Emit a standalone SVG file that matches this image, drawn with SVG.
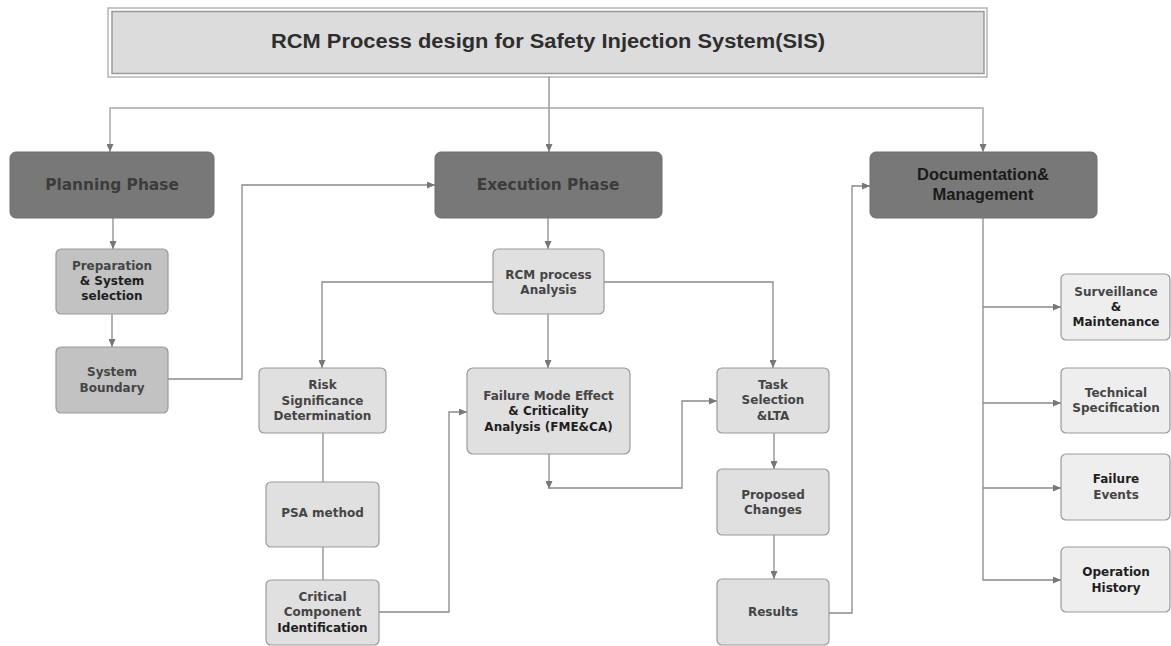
<svg xmlns="http://www.w3.org/2000/svg" width="1171" height="646" viewBox="0 0 1171 646">
<style>
.ln{fill:none;stroke:#8a8a8a;stroke-width:1.3}
.lt{fill:none;stroke:#a8a8a8;stroke-width:1.5}
.ph{fill:#787878;stroke:#6e6e6e;stroke-width:1}
.md{fill:#c2c2c2;stroke:#9a9a9a;stroke-width:1.2}
.lg{fill:#e0e0e0;stroke:#9a9a9a;stroke-width:1.2}
.xl{fill:#eeeeee;stroke:#9a9a9a;stroke-width:1.2}
.t{font-family:"DejaVu Sans",Verdana,sans-serif;font-weight:bold;font-size:12px;fill:#454545;text-anchor:middle}
.dk{fill:#1e1e1e}
.pt{font-family:"DejaVu Sans",Verdana,sans-serif;font-weight:bold;font-size:15.4px;fill:#3c3c3c;text-anchor:middle}
.dt{font-family:"Liberation Sans",Arial,sans-serif;font-weight:bold;font-size:16.5px;fill:#1a1a1a;text-anchor:middle}
</style>
<defs>
<marker id="ah" markerUnits="userSpaceOnUse" markerWidth="8" markerHeight="7" refX="8" refY="3.5" orient="auto">
<path d="M0,0 L8,3.5 L0,7 z" fill="#777"/>
</marker>
</defs>
<rect width="1171" height="646" fill="#ffffff"/>

<g id="title">
<rect x="108" y="8" width="879" height="69" fill="#ffffff" stroke="#b5b5b5" stroke-width="1.5"/>
<rect x="112" y="11.5" width="872" height="62" fill="#dcdcdc" stroke="#9a9a9a" stroke-width="1.5"/>
<text x="548" y="48" font-family="Liberation Sans, Arial, sans-serif" font-weight="bold" font-size="20" fill="#2e2e2e" text-anchor="middle" textLength="554" lengthAdjust="spacingAndGlyphs">RCM Process design for Safety Injection System(SIS)</text>
</g>

<g id="connectors">
<path class="ln" d="M549,77 V152" marker-end="url(#ah)"/>
<path class="lt" d="M549,108 H110 V152" marker-end="url(#ah)"/>
<path class="lt" d="M549,108 H983 V152" marker-end="url(#ah)"/>
<path class="ln" d="M113,218 V249" marker-end="url(#ah)"/>
<path class="ln" d="M112,314 V347" marker-end="url(#ah)"/>
<path class="ln" d="M168,379 H242 V185 H435" marker-end="url(#ah)"/>
<path class="ln" d="M548,218 V249" marker-end="url(#ah)"/>
<path class="ln" d="M493,282 H322 V368" marker-end="url(#ah)"/>
<path class="ln" d="M548,314 V368" marker-end="url(#ah)"/>
<path class="ln" d="M604,282 H773 V368" marker-end="url(#ah)"/>
<path class="ln" d="M323,433 V482"/>
<path class="ln" d="M323,547 V580"/>
<path class="ln" d="M379,612 H449 V412 H467" marker-end="url(#ah)"/>
<path class="ln" d="M549,454 V489" marker-end="url(#ah)"/>
<path class="ln" d="M549,488 H682 V401 H717" marker-end="url(#ah)"/>
<path class="ln" d="M774,433 V469" marker-end="url(#ah)"/>
<path class="ln" d="M774,535 V579" marker-end="url(#ah)"/>
<path class="ln" d="M829,613 H852 V186 H870" marker-end="url(#ah)"/>
<path class="ln" d="M983,218 V580 H1061" marker-end="url(#ah)"/>
<path class="ln" d="M983,307 H1061" marker-end="url(#ah)"/>
<path class="ln" d="M983,403 H1061" marker-end="url(#ah)"/>
<path class="ln" d="M983,488 H1061" marker-end="url(#ah)"/>
</g>

<g id="planning">
<rect class="ph" x="10" y="152" width="204" height="66" rx="6"/>
<text class="pt" x="112" y="189.5">Planning Phase</text>
</g>
<g id="execution">
<rect class="ph" x="435" y="152" width="227" height="66" rx="6"/>
<text class="pt" x="548" y="189.5">Execution Phase</text>
</g>
<g id="documentation">
<rect class="ph" x="870" y="152" width="227" height="66" rx="6"/>
<text class="dt" x="983" y="180">Documentation&amp;</text>
<text class="dt" x="983" y="200">Management</text>
</g>

<g id="preparation">
<rect class="md" x="56" y="249" width="112" height="65" rx="5"/>
<text class="t" x="112" y="270">Preparation</text>
<text class="t dk" x="112" y="285">&amp; System</text>
<text class="t dk" x="112" y="300">selection</text>
</g>
<g id="system-boundary">
<rect class="md" x="56" y="347" width="112" height="66" rx="5"/>
<text class="t" x="112" y="376">System</text>
<text class="t" x="112" y="392">Boundary</text>
</g>

<g id="rcm-analysis">
<rect class="lg" x="493" y="249" width="111" height="65" rx="5"/>
<text class="t" x="548.5" y="279">RCM process</text>
<text class="t" x="548.5" y="294">Analysis</text>
</g>
<g id="risk">
<rect class="lg" x="259" y="368" width="127" height="65" rx="5"/>
<text class="t" x="322.5" y="389">Risk</text>
<text class="t" x="322.5" y="405">Significance</text>
<text class="t" x="322.5" y="420">Determination</text>
</g>
<g id="psa">
<rect class="lg" x="266" y="482" width="113" height="65" rx="5"/>
<text class="t" x="322.5" y="517">PSA method</text>
</g>
<g id="critical">
<rect class="lg" x="266" y="580" width="113" height="65" rx="5"/>
<text class="t" x="322.5" y="601">Critical</text>
<text class="t" x="322.5" y="616">Component</text>
<text class="t dk" x="322.5" y="632">Identification</text>
</g>
<g id="fmeca">
<rect class="lg" x="467" y="368" width="163" height="86" rx="6"/>
<text class="t" x="548.5" y="400">Failure Mode Effect</text>
<text class="t dk" x="548.5" y="415">&amp; Criticality</text>
<text class="t dk" x="548.5" y="431">Analysis (FME&amp;CA)</text>
</g>
<g id="task">
<rect class="lg" x="717" y="368" width="112" height="65" rx="5"/>
<text class="t" x="773" y="389">Task</text>
<text class="t" x="773" y="404">Selection</text>
<text class="t" x="773" y="420">&amp;LTA</text>
</g>
<g id="proposed">
<rect class="lg" x="717" y="469" width="112" height="66" rx="5"/>
<text class="t" x="773" y="499">Proposed</text>
<text class="t" x="773" y="514">Changes</text>
</g>
<g id="results">
<rect class="lg" x="717" y="579" width="112" height="66" rx="5"/>
<text class="t" x="773" y="616">Results</text>
</g>

<g id="surveillance">
<rect class="xl" x="1061" y="274" width="109" height="66" rx="5"/>
<text class="t" x="1116" y="296">Surveillance</text>
<text class="t dk" x="1116" y="311">&amp;</text>
<text class="t dk" x="1116" y="326">Maintenance</text>
</g>
<g id="technical">
<rect class="xl" x="1061" y="368" width="109" height="65" rx="5"/>
<text class="t" x="1116" y="397">Technical</text>
<text class="t" x="1116" y="412">Specification</text>
</g>
<g id="failure-events">
<rect class="xl" x="1061" y="454" width="109" height="66" rx="5"/>
<text class="t dk" x="1116" y="483">Failure</text>
<text class="t" x="1116" y="499">Events</text>
</g>
<g id="operation-history">
<rect class="xl" x="1061" y="547" width="109" height="65" rx="5"/>
<text class="t dk" x="1116" y="576">Operation</text>
<text class="t dk" x="1116" y="592">History</text>
</g>
</svg>
